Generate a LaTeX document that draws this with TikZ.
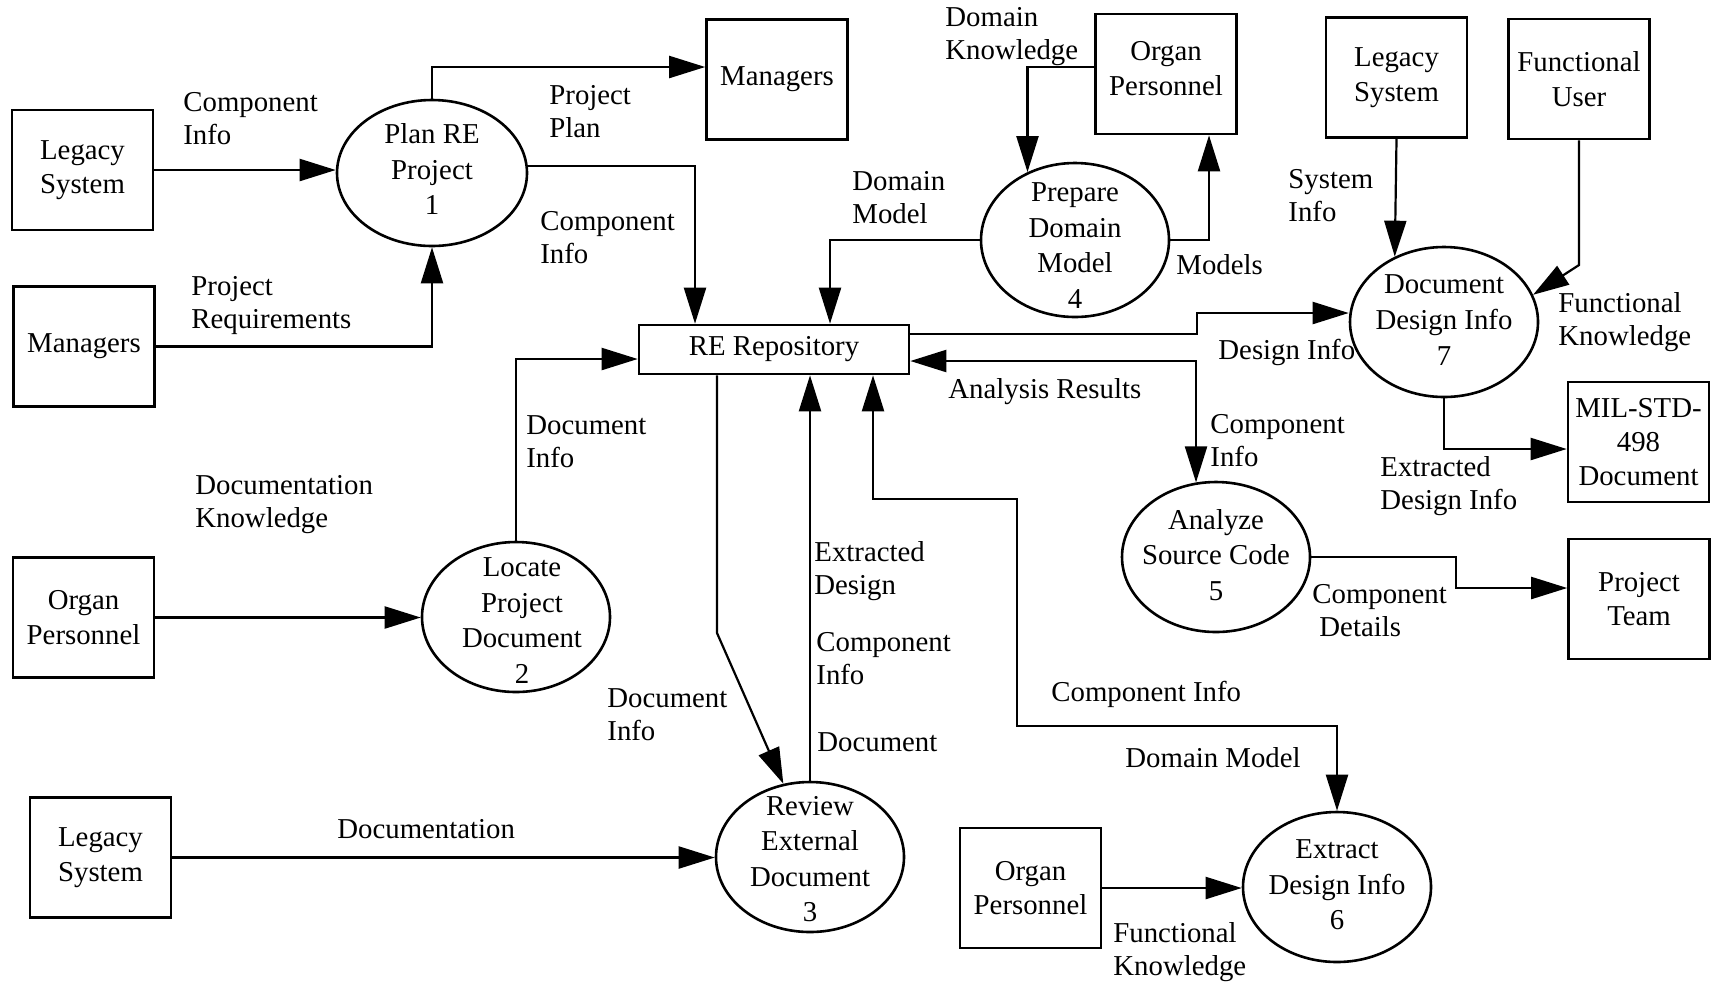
\documentclass[tikz,border=0pt]{standalone}
\usepackage{fontspec}
\setmainfont{Liberation Serif}
\usetikzlibrary{arrows.meta,shapes.geometric}

\begin{document}
\begin{tikzpicture}[x=0.5pt,y=-0.5pt,
  every node/.style={font=\fontsize{14.4}{16.5}\selectfont},
  ent/.style={draw, line width=1.3pt, minimum width=70.5pt, minimum height=60pt,
    inner sep=0pt, align=center, font=\fontsize{14.4}{17.2}\selectfont},
  proc/.style={draw, ellipse, line width=1.3pt, minimum width=94pt, minimum height=75pt, inner sep=0pt},
  ptext/.style={align=center, inner sep=0pt, font=\fontsize{14.4}{17.8}\selectfont},
  lbl/.style={anchor=west, align=left, inner sep=0pt},
  flow/.style={line width=1.1pt, -{Triangle[length=18pt,width=11pt]}},
  flowboth/.style={line width=1.1pt, {Triangle[length=18pt,width=11pt]}-{Triangle[length=18pt,width=11pt]}},
]
\fill[white] (0,0) rectangle (1711,982);
\useasboundingbox (0,0) rectangle (1711,982);

% external entities
\node[ent] (L1)  at (82.5,170)   {Legacy\\System};
\node[ent] (M2)  at (84,346.5)   {Managers};
\node[ent] (M1)  at (777,79.5)   {Managers};
\node[ent] (OP1) at (83.5,617.5) {Organ\\Personnel};
\node[ent] (L3)  at (100.5,857.5){Legacy\\System};
\node[ent, text depth=5.5pt] (OP4) at (1166,74) {Organ\\Personnel};
\node[ent] (L7)  at (1396.5,77.5){Legacy\\System};
\node[ent] (FU)  at (1579,79)    {Functional\\User};
\node[ent] (MIL) at (1638.5,442) {MIL-STD-\\498\\Document};
\node[ent] (PT)  at (1639,599)   {Project\\Team};
\node[ent] (OP6) at (1030.5,888) {Organ\\Personnel};

% data store
\node[draw, line width=1.3pt, minimum width=135pt, minimum height=24.5pt, inner sep=0pt]
  (repo) at (774,349.5) {RE Repository};

% processes
\node[proc, minimum width=95pt, minimum height=73pt] (P1) at (432,173) {};
\node[proc] (P2) at (516,617) {};
\node[proc] (P3) at (810,857) {};
\node[proc, minimum height=77pt] (P4) at (1075,240) {};
\node[proc] (P5) at (1216,557) {};
\node[proc] (P6) at (1337,887) {};
\node[proc] (P7) at (1444,322) {};

\node[ptext] (P1t) at (432,169)   {Plan RE\\Project\\1};
\node[ptext] (P2t) at (522,620.5) {Locate\\Project\\Document\\2};
\node[ptext] (P3t) at (810,859)   {Review\\External\\Document\\3};
\node[ptext] (P4t) at (1075,245.5){Prepare\\Domain\\Model\\4};
\node[ptext] (P5t) at (1216,555)  {Analyze\\Source Code\\5};
\node[ptext] (P6t) at (1337,885)  {Extract\\Design Info\\6};
\node[ptext] (P7t) at (1444,320)  {Document\\Design Info\\7};

% data flows
\draw[flow] (L1.east) -- (L1.east -| P1.west);
\draw[flow] (M2.east) -| (P1.south);
\draw[flow] (P1.north) |- (M1.west |- 0,67);
\draw[flow] ([yshift=3.5pt]P1.east) -| (repo.north -| 695,0);
\draw[flow] (P4.west) -| (repo.north -| 830,0);
\draw[flow] ([yshift=3.5pt]OP4.west) -| (P4.125);
\draw[flow] (P4.east) -| (OP4.south -| 1209,0);
\draw[flow] ([yshift=7.75pt]repo.east) -| (1197,313) -- (P7.west |- 0,313);
\draw[flowboth] ([yshift=-5.75pt]repo.east) -| (P5.105);
\draw[flow] (L7.south) -- (P7.127);
\draw[flow] (FU.south) -- (FU.south |- 0,265) -- (P7.17);
\draw[flow] (P7.south) |- ([yshift=-3.5pt]MIL.west);
\coordinate (m1) at (1456,588);
\draw[flow] (P5.east) -| (m1) -- (m1 -| PT.west);
\draw[flow] (OP6.east) -- (OP6.east -| P6.west);
\draw[flowboth] (repo.south -| 873,0) |- (1017,499) |- (P6.north |- 0,726) -- (P6.north);
\draw[flow] (repo.south -| 717,0) -- (717,633) -- (P3.110);
\draw[flow] (P3.north) -- (repo.south -| P3.north);
\draw[flow] (P2.north) |- ([yshift=-4.75pt]repo.west);
\draw[flow] (OP1.east) -- (OP1.east -| P2.west);
\draw[flow] (L3.east) -- (L3.east -| P3.west);

% flow labels
\node[lbl] (t1)  at (183,119)    {Component\\Info};
\node[lbl] (t2)  at (191,305.5)  {Project\\Requirements};
\node[lbl] (t3)  at (549,111.5)  {Project\\Plan};
\node[lbl] (t4)  at (540,237.5)  {Component\\Info};
\node[lbl] (t5)  at (852,197.5)  {Domain\\Model};
\node[lbl] (t6)  at (945,37)     {Domain\\Knowledge};
\node[lbl] (t7)  at (1176,265)   {Models};
\node[lbl] (t8)  at (1288,195.5) {System\\Info};
\node[lbl] (t9)  at (1558,322.5) {Functional\\Knowledge};
\node[lbl] (t10) at (1218,352)   {Design Info};
\node[lbl] (t11) at (948,392)    {Analysis Results};
\node[lbl] (t12) at (1210,441)   {Component\\Info};
\node[lbl] (t13) at (1380,486)   {Extracted\\Design Info};
\node[lbl] (t14) at (1312,610.5) {Component\\\hspace{3.5pt}Details};
\node[lbl] (t15) at (526,442)    {Document\\Info};
\node[lbl] (t16) at (195,505)    {Documentation\\Knowledge};
\node[lbl] (t17) at (814,571)    {Extracted\\Design};
\node[lbl] (t18) at (816,659)    {Component\\Info};
\node[lbl] (t19) at (817,742)    {Document};
\node[lbl] (t20) at (607,715)    {Document\\Info};
\node[lbl] (t21) at (1051,694)   {Component Info};
\node[lbl] (t22) at (1125,758)   {Domain Model};
\node[lbl] (t23) at (337,829)    {Documentation};
\node[lbl] (t24) at (1113,952)   {Functional\\Knowledge};
\end{tikzpicture}
\end{document}
